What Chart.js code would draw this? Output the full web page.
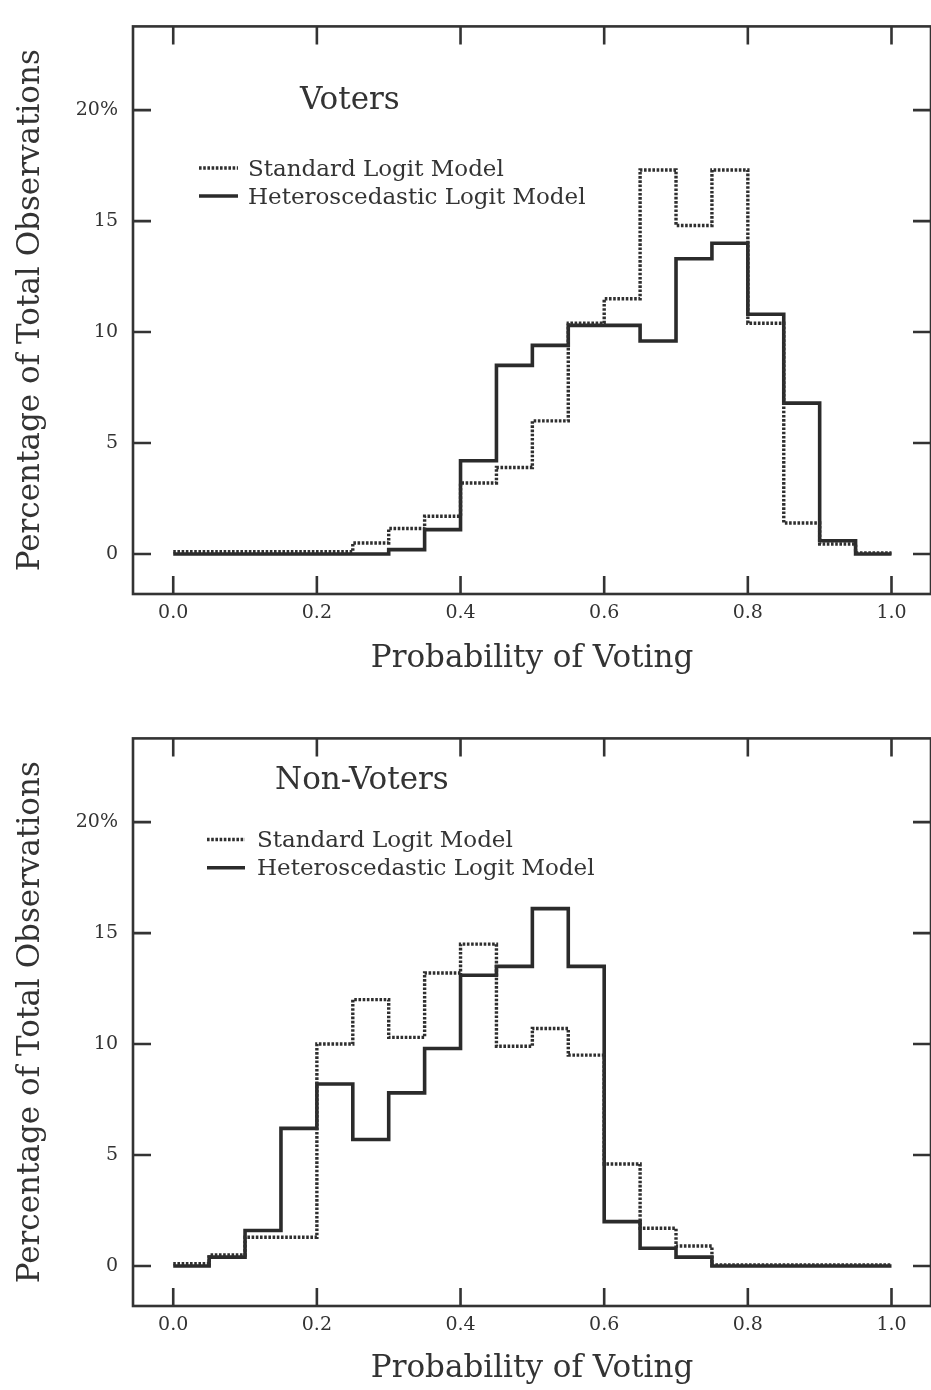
<!DOCTYPE html>
<html>
<head>
<meta charset="utf-8">
<script src="https://cdn.jsdelivr.net/npm/chart.js@4.4.0/dist/chart.umd.min.js"></script>
<style>
  html, body { margin: 0; padding: 0; background: #ffffff; overflow: hidden; }
  #wrap { position: relative; width: 931px; height: 1390px; }
  canvas { position: absolute; left: 0; }
  #chartVoters { top: 0; }
  #chartNonVoters { top: 712px; }
</style>
</head>
<body>
<div id="wrap">
  <canvas id="chartVoters" width="931" height="712"></canvas>
  <canvas id="chartNonVoters" width="931" height="678"></canvas>
</div>
<script>
// ---------------- data ----------------
const binEdges = [0.00, 0.05, 0.10, 0.15, 0.20, 0.25, 0.30, 0.35, 0.40, 0.45, 0.50,
                  0.55, 0.60, 0.65, 0.70, 0.75, 0.80, 0.85, 0.90, 0.95, 1.00];

const votersStandard    = [0.1, 0.1, 0.1, 0.1, 0.1, 0.5, 1.15, 1.7, 3.2, 3.9,
                           6.0, 10.4, 11.5, 17.3, 14.8, 17.3, 10.4, 1.4, 0.45, 0.05];
const votersHetero      = [0.0, 0.0, 0.0, 0.0, 0.0, 0.0, 0.2, 1.1, 4.2, 8.5,
                           9.4, 10.3, 10.3, 9.6, 13.3, 14.0, 10.8, 6.8, 0.6, 0.0];
const nonVotersStandard = [0.1, 0.5, 1.3, 1.3, 10.0, 12.0, 10.3, 13.2, 14.5, 9.9,
                           10.7, 9.5, 4.6, 1.7, 0.9, 0.05, 0.05, 0.05, 0.05, 0.05];
const nonVotersHetero   = [0.0, 0.4, 1.6, 6.2, 8.2, 5.7, 7.8, 9.8, 13.1, 13.5,
                           16.1, 13.5, 2.0, 0.8, 0.4, 0.0, 0.0, 0.0, 0.0, 0.0];

const xTickValues = [0.0, 0.2, 0.4, 0.6, 0.8, 1.0];
const xTickLabels = ['0.0', '0.2', '0.4', '0.6', '0.8', '1.0'];
const yTickValues = [0, 5, 10, 15, 20];
const yTickLabels = ['0', '5', '10', '15', '20%'];

const seriesLabels = ['Standard Logit Model', 'Heteroscedastic Logit Model'];
const panelTitles  = ['Voters', 'Non-Voters'];
const xAxisTitle = 'Probability of Voting';
const yAxisTitle = 'Percentage of Total Observations';

// ---------------- style ----------------
const INK = '#333333';
const SERIF = '"DejaVu Serif", "Liberation Serif", serif';

function stepPoints(values) {
  // one point at every bin edge; last edge repeats the last bin value
  return binEdges.map((x, i) => ({ x: x, y: values[Math.min(i, values.length - 1)] }));
}

const decorPlugin = {
  id: 'decor',
  afterDraw(chart, args, o) {
    const { ctx, chartArea: a } = chart;
    const xs = chart.scales.x, ys = chart.scales.y;
    ctx.save();
    // frame
    ctx.strokeStyle = INK;
    ctx.lineWidth = 2.6;
    ctx.setLineDash([]);
    ctx.strokeRect(a.left, a.top, a.right - a.left, a.bottom - a.top);
    // inward ticks on all four sides
    const L = 18;
    ctx.beginPath();
    xTickValues.forEach(v => {
      const px = xs.getPixelForValue(v);
      ctx.moveTo(px, a.bottom); ctx.lineTo(px, a.bottom - L);
      ctx.moveTo(px, a.top);    ctx.lineTo(px, a.top + L);
    });
    yTickValues.forEach(v => {
      const py = ys.getPixelForValue(v);
      ctx.moveTo(a.left, py);  ctx.lineTo(a.left + L, py);
      ctx.moveTo(a.right, py); ctx.lineTo(a.right - L, py);
    });
    ctx.stroke();
    // panel title
    ctx.fillStyle = INK;
    ctx.textAlign = 'left';
    ctx.textBaseline = 'alphabetic';
    ctx.font = '31px ' + SERIF;
    ctx.fillText(o.title, o.titleX, o.titleY);
    // legend
    const rows = [o.legendY0, o.legendY1];
    chart.data.datasets.forEach((ds, i) => {
      const ly = rows[i];
      ctx.save();
      ctx.strokeStyle = ds.borderColor;
      ctx.lineWidth = ds.borderWidth;
      ctx.setLineDash(ds.borderDash || []);
      ctx.beginPath();
      ctx.moveTo(o.lineX0, ly); ctx.lineTo(o.lineX1, ly);
      ctx.stroke();
      ctx.restore();
      ctx.fillStyle = INK;
      ctx.font = '23px ' + SERIF;
      ctx.fillText(ds.label, o.textX, ly + o.textDy);
    });
    ctx.restore();
  }
};

function makeChart(canvasId, std, het, deco, canvasH, xTitlePad) {
  const AREA_BOTTOM = 594;
  return new Chart(document.getElementById(canvasId), {
    type: 'line',
    data: {
      datasets: [
        {
          label: seriesLabels[0],
          data: stepPoints(std),
          stepped: 'before',
          borderColor: '#2f2f2f',
          borderWidth: 3.4,
          borderDash: [2.6, 1.6],
          borderCapStyle: 'butt',
          borderJoinStyle: 'miter',
          pointRadius: 0,
          fill: false
        },
        {
          label: seriesLabels[1],
          data: stepPoints(het),
          stepped: 'before',
          borderColor: '#2b2b2b',
          borderWidth: 3.6,
          borderDash: [],
          borderCapStyle: 'butt',
          borderJoinStyle: 'miter',
          pointRadius: 0,
          fill: false
        }
      ]
    },
    options: {
      responsive: false,
      animation: false,
      devicePixelRatio: 1,
      layout: { padding: { top: 13, left: 0, right: -8, bottom: 0 } },
      plugins: {
        legend: { display: false },
        tooltip: { enabled: false },
        title: { display: false },
        decor: deco
      },
      scales: {
        x: {
          type: 'linear',
          min: -0.056,
          max: 1.055,
          afterBuildTicks: s => { s.ticks = xTickValues.map(v => ({ value: v })); },
          afterFit: s => { s.height = canvasH - AREA_BOTTOM; },
          ticks: {
            autoSkip: false,
            maxRotation: 0,
            padding: 8,
            color: INK,
            font: { family: SERIF, size: 19 },
            callback: v => xTickLabels[xTickValues.indexOf(v)]
          },
          grid: { display: false, drawTicks: false },
          border: { display: false },
          title: {
            display: true,
            text: xAxisTitle,
            color: INK,
            font: { family: SERIF, size: 31 },
            padding: { top: 0, bottom: xTitlePad }
          }
        },
        y: {
          type: 'linear',
          min: -1.8,
          max: 23.77,
          afterBuildTicks: s => { s.ticks = yTickValues.map(v => ({ value: v })); },
          afterFit: s => { s.width = 133; },
          ticks: {
            padding: 15,
            color: INK,
            font: { family: SERIF, size: 19 },
            callback: v => yTickLabels[yTickValues.indexOf(v)]
          },
          grid: { display: false, drawTicks: false },
          border: { display: false },
          title: {
            display: true,
            text: yAxisTitle,
            color: INK,
            font: { family: SERIF, size: 31 },
            padding: { top: 12.7, bottom: 0 }
          }
        }
      }
    },
    plugins: [decorPlugin]
  });
}

makeChart('chartVoters', votersStandard, votersHetero, {
  title: panelTitles[0], titleX: 300, titleY: 109,
  legendY0: 168, legendY1: 196, lineX0: 199, lineX1: 238, textX: 248, textDy: 7.5
}, 712, 34);

makeChart('chartNonVoters', nonVotersStandard, nonVotersHetero, {
  title: panelTitles[1], titleX: 275, titleY: 77,
  legendY0: 127.5, legendY1: 155.7, lineX0: 207, lineX1: 245, textX: 257, textDy: 7.2
}, 678, 2);
</script>
</body>
</html>
